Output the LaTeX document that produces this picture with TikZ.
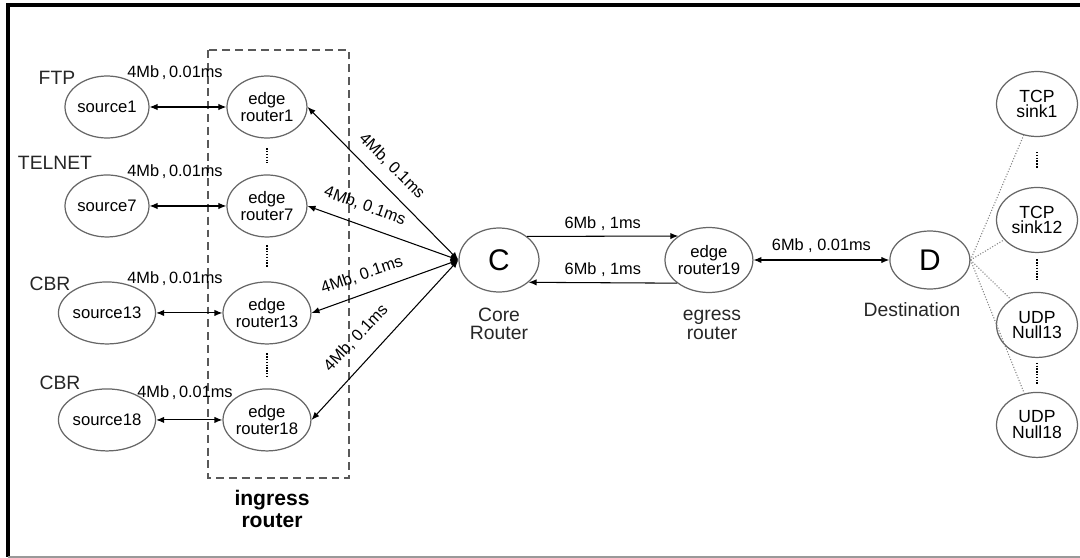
\documentclass[tikz,border=0pt]{standalone}
\usepackage{fontspec}
\setmainfont{Liberation Sans}
\usetikzlibrary{calc,arrows.meta,positioning,shapes.geometric}

\begin{document}
\begin{tikzpicture}[x=0.02cm,y=-0.02cm,on grid]

\tikzset{host/.style={draw=black!60,line width=0.7pt,shape=ellipse,inner sep=0pt,minimum width=1.6cm,minimum height=1.24cm,align=center,font=\fontsize{9.5}{9.8}\selectfont},
hub/.style={host,minimum height=1.28cm,font=\fontsize{17}{17}\selectfont},
sink/.style={host,minimum width=1.62cm,minimum height=1.3cm,font=\fontsize{10}{9}\selectfont},
app/.style={font=\fontsize{11}{11}\selectfont,text=black!85},
tag/.style={font=\fontsize{11}{10.5}\selectfont,text=black!85,align=center},
rate/.style={font=\fontsize{9.3}{9.3}\selectfont,inner sep=1pt},
link/.style={<->,>={Latex[length=4.5pt,width=3.6pt]},line width=0.6pt},
feed/.style={->,>={Latex[length=4.5pt,width=3.6pt]},line width=0.6pt},
tap/.style={black!50,line width=0.6pt,densely dotted},
gap/.style={line width=1.3pt,dash pattern=on 0.8pt off 0.8pt},
zone/.style={draw=black!65,line width=0.85pt,dash pattern=on 4.5pt off 2.8pt}}

\useasboundingbox (0,0) rectangle (1080,558);

% Frame
\draw[line width=2.2pt] (1080,5) -- (8,5) -- (8,557);
\draw[black!40,line width=1pt] (8,557) -- (1080,557);

% Sources
\node (src1) [host] at (107,107) {source1};
\node (src7) [below=1.98cm of src1,host] {source7};
\node (src13) [below=2.14cm of src7,host] {source13};
\node (src18) [below=2.14cm of src13,host] {source18};

% Edge routers
\node (er1) [right=3.2cm of src1,host] {edge\\router1};
\node (er7) [right=3.2cm of src7,host] {edge\\router7};
\node (er13) [right=3.2cm of src13,host] {edge\\router13};
\node (er18) [right=3.2cm of src18,host] {edge\\router18};

% Core, egress, destination
\node (core) [hub] at (499,260) {C};
\node (er19) [right=4.2cm of core,host,minimum width=1.64cm,minimum height=1.3cm] {edge\\router19};
\node (dst) [right=4.42cm of er19,hub,minimum height=1.16cm] {D};

% Sinks
\node (snk1) [sink] at (1037,104) {TCP\\sink1};
\node (snk12) [below=2.32cm of snk1,sink] {TCP\\sink12};
\node (nul13) [below=2.1cm of snk12,sink] {UDP\\Null13};
\node (nul18) [below=2cm of nul13,sink] {UDP\\Null18};

% Ingress box
\draw[zone] (208,50) rectangle (349,478);
\node (ingress) [align=center,font=\bfseries\fontsize{12}{12.5}\selectfont] at (272,509) {ingress\\router};

% Traffic types
\node (ftp) [app] at (57,78) {FTP};
\node (telnet) [app] at (55,163) {TELNET};
\node (cbr1) [app] at (50,284) {CBR};
\node (cbr2) [app] at (60,383) {CBR};

% Other labels
\node (corelbl) [tag] at (499,324) {Core\\Router};
\node (egrlbl) [tag] at (712,325) {egress\\router};
\node (dstlbl) [tag] at (912,310) {Destination};

% Access links
\draw[link] (src1) -- (er1);
\draw[link] (src7) -- (er7);
\draw[link] (src13) -- (er13);
\draw[link] (src18) -- (er18);
\node (acc1) [rate] at (175,73) {4Mb\,,\,0.01ms};
\node (acc7) [rate] at (175,172) {4Mb\,,\,0.01ms};
\node (acc13) [rate] at (175,279) {4Mb\,,\,0.01ms};
\node (acc18) [rate] at (185,393) {4Mb\,,\,0.01ms};

% Links to core
\draw[link] (core.west) -- (er1.east);
\draw[link] (core.west) -- (er7.east);
\draw[link] (core.west) -- (er13.east);
\draw[link] (core.west) -- (er18.east);
\node (up1) [rate,rotate=-45] at (392,166) {4Mb, 0.1ms};
\node (up7) [rate,rotate=-20] at (365,206) {4Mb, 0.1ms};
\node (up13) [rate,rotate=19] at (362,275) {4Mb, 0.1ms};
\node (up18) [rate,rotate=47] at (356,338) {4Mb, 0.1ms};

% Core to egress to destination
\draw[feed] (core.40) -- node[rate,above=2pt] {6Mb , 1ms} (er19.142);
\draw[feed] (er19.216) -- node[rate,above=2pt] {6Mb , 1ms} (core.323);
\draw[link] (er19) -- node[rate,above=3pt] {6Mb , 0.01ms} (dst);

% Destination to sinks
\draw[tap] (dst.east) -- (snk1);
\draw[tap] (dst.east) -- (snk12);
\draw[tap] (dst.east) -- (nul13);
\draw[tap] (dst.east) -- (nul18);

% Omitted nodes
\draw[gap] ($(er1.south)!.27!(er7.north)$) -- ($(er1.south)!.68!(er7.north)$);
\draw[gap] ($(er7.south)!.18!(er13.north)$) -- ($(er7.south)!.69!(er13.north)$);
\draw[gap] ($(er13.south)!.2!(er18.north)$) -- ($(er13.south)!.73!(er18.north)$);
\draw[gap] ($(snk1.south)!.3!(snk12.north)$) -- ($(snk1.south)!.63!(snk12.north)$);
\draw[gap] ($(snk12.south)!.16!(nul13.north)$) -- ($(snk12.south)!.67!(nul13.north)$);
\draw[gap] ($(nul13.south)!.14!(nul18.north)$) -- ($(nul13.south)!.78!(nul18.north)$);

\end{tikzpicture}
\end{document}
